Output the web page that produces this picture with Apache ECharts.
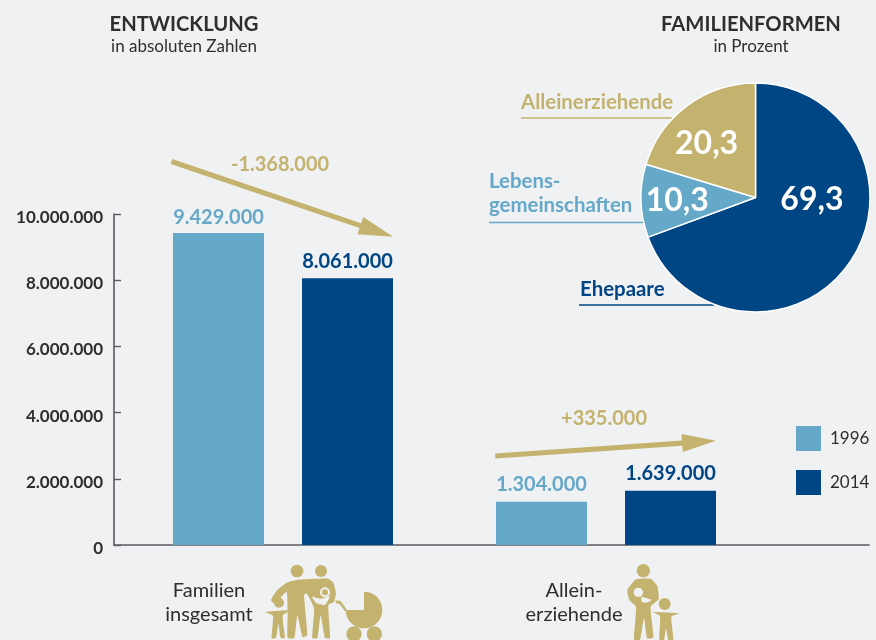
<!DOCTYPE html>
<html>
<head>
<meta charset="utf-8">
<title>Familien</title>
<style>html,body{margin:0;padding:0;background:#f0f1f3}#c{width:876px;height:640px}</style>
<script src="https://cdn.jsdelivr.net/npm/echarts@6/dist/echarts.min.js"></script>
</head>
<body>
<div id="c"></div>
<script>
// data
const categories = ['Familien\ninsgesamt', 'Allein-\nerziehende'];
const values1996 = [9429000, 1304000];
const values2014 = [8061000, 1639000];
const yTicks = { min: 0, max: 10000000, interval: 2000000 };
const pieNames = ['Ehepaare', 'Lebensgemeinschaften', 'Alleinerziehende'];
const pieValues = [69.3, 10.3, 20.3];
const changes = ['-1.368.000', '+335.000'];

const tan = '#c4b26f', light = '#65a8c7', dark = '#004584', ink = '#2e2e30', bg = '#f0f1f3';
const font = 'Lato';
const dotted = v => String(v).replace(/\B(?=(\d{3})+$)/g, '.');
const comma = v => String(v).replace('.', ',');

// arrow as polygon, tail -> tip
function arrow(t, p, len, halfW, halfS) {
  const d = Math.hypot(p[0] - t[0], p[1] - t[1]);
  const ux = (p[0] - t[0]) / d, uy = (p[1] - t[1]) / d, nx = -uy, ny = ux;
  const b = [p[0] - ux * len, p[1] - uy * len];
  const pt = (o, k) => [o[0] + nx * k, o[1] + ny * k];
  return { type: 'polygon', silent: true, style: { fill: tan },
    shape: { points: [pt(t, -halfS), pt(b, -halfS), pt(b, -halfW), p, pt(b, halfW), pt(b, halfS), pt(t, halfS)] } };
}
const txt = (text, x, y, size, weight, fill, align) => ({ type: 'text', silent: true, x, y,
  style: { text, fontFamily: font, fontSize: size, fontWeight: weight, fill, align: align || 'left', verticalAlign: 'middle' } });
const rule = (x1, x2, y, stroke) => ({ type: 'line', silent: true, shape: { x1, y1: y, x2, y2: y }, style: { stroke, lineWidth: 1.6 } });
const poly = (points, fill) => ({ type: 'polygon', silent: true, shape: { points, smooth: 0.15 }, style: { fill: fill || tan } });
const dot = (cx, cy, r, fill) => ({ type: 'circle', silent: true, shape: { cx, cy, r }, style: { fill: fill || tan } });

// icons are traced at 3x and scaled down
const familyIcon = { type: 'group', x: 150, y: 550, scaleX: 1 / 3, scaleY: 1 / 3, children: [
  dot(441, 63, 19), dot(513, 63, 18),
  poly([[363,150],[380,122],[410,98],[440,90],[535,86],[550,98],[558,130],[552,155],[535,165],[540,264],[525,264],[512,195],[502,264],[487,264],[492,175],[470,130],[462,135],[472,255],[458,262],[442,195],[433,264],[413,264],[413,185],[410,125],[385,150],[372,160]]),
  dot(387, 158, 15),
  poly([[346,186],[420,181],[398,197],[405,264],[392,264],[385,222],[378,264],[365,264],[369,197]]),
  dot(525, 127, 15, bg), dot(525, 127, 9),
  poly([[486,140],[515,146],[540,138],[525,165],[500,160]], bg),
  poly([[557,152],[572,154],[590,180],[586,184],[568,162],[558,160]]),
  { type: 'sector', silent: true, shape: { cx: 642, cy: 180, r: 55, r0: 0, startAngle: 0, endAngle: Math.PI }, style: { fill: tan } },
  { type: 'sector', silent: true, shape: { cx: 642, cy: 180, r: 55, r0: 0, startAngle: -Math.PI / 2, endAngle: 0 }, style: { fill: tan } },
  dot(612, 252, 23), dot(673, 252, 23)
] };
const singleIcon = { type: 'group', x: 530, y: 550, scaleX: 1 / 3, scaleY: 1 / 3, children: [
  dot(340, 62, 20),
  poly([[318,88],[362,86],[382,108],[386,148],[362,170],[370,262],[352,266],[342,205],[330,270],[312,270],[318,170],[298,150],[292,120]]),
  dot(325, 127, 14, bg),
  poly([[335,140],[365,150],[350,158],[335,155]], bg),
  dot(404, 162, 18),
  poly([[368,186],[448,190],[424,200],[430,270],[415,270],[408,235],[402,270],[388,270],[390,198]])
] };

const titleStyle = { fontFamily: font, fontSize: 20.2, fontWeight: 700, color: ink };
const subStyle = { fontFamily: font, fontSize: 17, color: ink };
const barLabel = color => ({ show: true, position: 'top', distance: 7, fontFamily: font, fontSize: 20, fontWeight: 700, color, formatter: p => dotted(p.value) });

const option = {
  backgroundColor: bg,
  animation: false,
  title: [
    { text: 'ENTWICKLUNG', subtext: 'in absoluten Zahlen', left: 184, top: 14, textAlign: 'center', itemGap: 4, padding: 0, textStyle: titleStyle, subtextStyle: subStyle },
    { text: 'FAMILIENFORMEN', subtext: 'in Prozent', left: 751, top: 14, textAlign: 'center', itemGap: 4, padding: 0, textStyle: titleStyle, subtextStyle: subStyle }
  ],
  legend: { data: ['1996', '2014'], orient: 'vertical', left: 796, top: 426, itemWidth: 25, itemHeight: 25, itemGap: 19, padding: 0,
    icon: 'rect', textStyle: { fontFamily: font, fontSize: 17, color: ink, padding: [0, 0, 0, 4] } },
  // bars sit in the inner grid, the axes in the wider outer one
  grid: [
    { left: 121.5, width: 646, top: 214, bottom: 95 },
    { left: 114, width: 755, top: 214, bottom: 95 }
  ],
  xAxis: [
    { type: 'category', gridIndex: 0, data: [
        { value: categories[0], textStyle: { padding: [0, 148, 0, 0] } },
        { value: categories[1], textStyle: { padding: [0, 64, 0, 0] } }
      ],
      axisLine: { show: false }, axisTick: { show: false },
      axisLabel: { margin: 34, fontFamily: font, fontSize: 20, lineHeight: 24, color: ink } },
    { type: 'value', gridIndex: 1, min: 0, max: 1, axisLabel: { show: false }, axisTick: { show: false }, splitLine: { show: false },
      axisLine: { show: true, lineStyle: { color: '#5b5b60', width: 1.6 } } }
  ],
  yAxis: [
    { type: 'value', gridIndex: 0, ...yTicks, show: false },
    { type: 'value', gridIndex: 1, ...yTicks, splitLine: { show: false },
      axisLine: { show: true, lineStyle: { color: '#5b5b60', width: 1.6 } },
      axisTick: { show: true, inside: true, length: 7, lineStyle: { color: '#5b5b60', width: 1.4 } },
      axisLabel: { margin: 11, formatter: v => '{n|' + dotted(v) + '}',
        rich: { n: { fontFamily: font, fontSize: 17, fontWeight: 700, color: ink, padding: [7, 0, 0, 0] } } } }
  ],
  series: [
    { name: '1996', type: 'bar', barWidth: 91, barGap: '41.8%', itemStyle: { color: light }, label: barLabel(light),
      data: values1996.map((v, i) => i === 0 ? { value: v, label: { distance: 5 } } : v) },
    { name: '2014', type: 'bar', barWidth: 91, itemStyle: { color: dark }, label: barLabel(dark), data: values2014 },
    { name: 'Familienformen', type: 'pie', center: [755.5, 197.5], radius: 114.5, startAngle: 90, clockwise: true, silent: true,
      labelLine: { show: false },
      label: { position: 'inside', fontFamily: font, fontSize: 32, fontWeight: 700, color: '#fff', formatter: p => comma(p.value) },
      itemStyle: { borderColor: '#fff', borderWidth: 1.5 },
      data: [
        { name: pieNames[0], value: pieValues[0], itemStyle: { color: dark }, label: { offset: [7, -32] } },
        { name: pieNames[1], value: pieValues[1], itemStyle: { color: light }, label: { offset: [-18, 1] } },
        { name: pieNames[2], value: pieValues[2], itemStyle: { color: tan }, label: { offset: [-13, -5] } }
      ] }
  ],
  graphic: [
    arrow([171.5, 161.5], [393, 236.7], 34.5, 9, 2.6),
    arrow([495.3, 456], [716, 440.7], 34, 9, 2.6),
    txt(changes[0], 280, 165, 20, 700, tan, 'center'),
    txt(changes[1], 604, 419, 20, 700, tan, 'center'),
    txt(pieNames[2], 521, 102, 20.4, 700, tan),
    rule(521, 672, 118, tan),
    txt('Lebens-', 489, 181, 20.4, 700, light),
    txt('gemeinschaften', 489, 205, 20.4, 700, light),
    rule(489, 644, 222.5, light),
    txt(pieNames[0], 580, 289, 20.4, 700, dark),
    rule(579, 714, 305, dark),
    familyIcon,
    singleIcon
  ]
};
echarts.init(document.getElementById('c'), null, { renderer: 'canvas' }).setOption(option);
</script>
</body>
</html>
